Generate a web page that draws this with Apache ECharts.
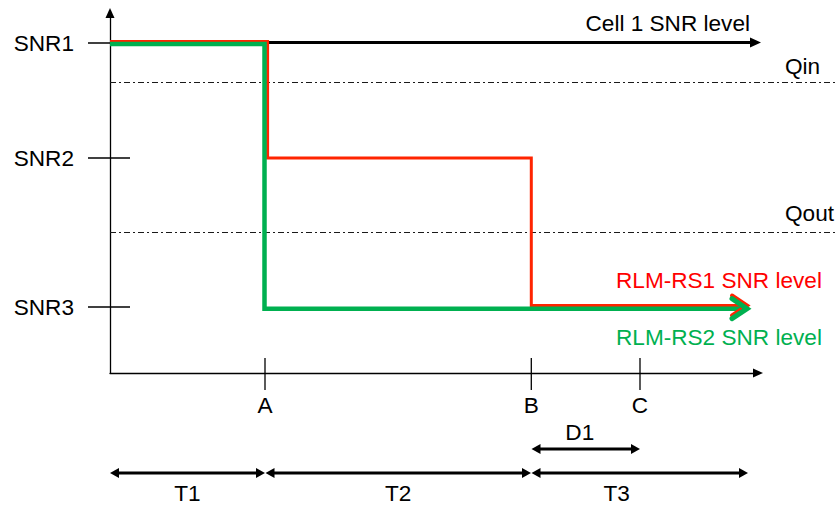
<!DOCTYPE html>
<html><head><meta charset="utf-8">
<script src="https://cdn.jsdelivr.net/npm/echarts@6/dist/echarts.min.js"></script>
<style>html,body{margin:0;padding:0;background:#fff}#c{width:838px;height:507px}</style>
</head><body><div id="c"></div>
<script>
// ---- data ----
const yTickLabels = ['SNR1', 'SNR2', 'SNR3'];
const yTickValues = [330, 215, 66];
const thresholdLabels = ['Qin', 'Qout'];
const thresholdValues = [290.5, 140.5];
const xTickLabels = ['A', 'B', 'C'];
const xTickValues = [155, 421.3, 530];
const seriesNames = ['Cell 1 SNR level', 'RLM-RS1 SNR level', 'RLM-RS2 SNR level'];
const cellLevelX = [0, 641];
const cellLevelY = [330.5, 330.5];
const rs1LevelX = [0, 157.6, 157.6, 421.3, 421.3, 635];
const rs1LevelY = [331.5, 331.5, 215, 215, 67.5, 67.5];
const rs2LevelX = [0, 154.5, 154.5, 635];
const rs2LevelY = [329, 329, 64.3, 64.3];
const arrowTipX = [651, 637, 637];
const periodLabels = ['T1', 'T2', 'T3'];
const periodStart = [0, 155.5, 421.5];
const periodEnd = [155, 421, 638];
const delayLabels = ['D1'];
const delayStart = [421.5];
const delayEnd = [530];

// ---- helpers ----
const FONT = '"Liberation Sans", Arial, Helvetica, sans-serif';
const FS = 22.6;
const RED = '#FF2400', GREEN = '#00B050', TXT_RED = '#FF0000';
function txt(x, y, text, align, color) {
  return {type: 'text', x: x, y: y, style: {text: text, fill: color || '#000', fontSize: FS, fontFamily: FONT,
    align: align, verticalAlign: 'middle', textAlign: align, textVerticalAlign: 'middle'}};
}
function tri(tip, dx, len, half, color) {
  const bx = tip[0] - dx * len;
  return {type: 'polygon', shape: {points: [[tip[0], tip[1]], [bx, tip[1] - half], [bx, tip[1] + half]]}, style: {fill: color}};
}
function pairs(xs, ys) { return xs.map((x, i) => [x, ys[i]]); }

const chart = echarts.init(document.getElementById('c'), null, {renderer: 'svg'});
const option = {
  animation: false,
  backgroundColor: '#fff',
  grid: {left: 110, right: 80, top: 13, bottom: 134},
  xAxis: {type: 'value', min: 0, max: 648, splitLine: {show: false}, axisTick: {show: false}, axisLabel: {show: false},
    axisLine: {show: true, onZero: true, lineStyle: {color: '#000', width: 1.3}, symbol: ['none', 'triangle'], symbolSize: [9, 10]}},
  yAxis: {type: 'value', min: 0, max: 360, splitLine: {show: false}, axisTick: {show: false}, axisLabel: {show: false},
    axisLine: {show: true, lineStyle: {color: '#000', width: 1.3}, symbol: ['none', 'triangle'], symbolSize: [9, 10]}},
  series: [
    // thresholds
    {type: 'custom', clip: false, z: 2, data: thresholdValues.map((v, i) => [0, v, i]),
      renderItem: function (params, api) {
        const i = api.value(2);
        const p = api.coord([0, api.value(1)]);
        const lx = api.coord([675, 0])[0];
        const off = [-16, -19][i];
        return {type: 'group', children: [
          {type: 'line', shape: {x1: p[0], y1: p[1], x2: api.getWidth(), y2: p[1]},
            style: {stroke: '#1a1a1a', lineWidth: 1, lineDash: [6, 3, 2, 3]}},
          txt(lx, p[1] + off, thresholdLabels[i], 'left')
        ]};
      }},
    // y ticks + labels
    {type: 'custom', clip: false, z: 2, data: yTickValues.map((v, i) => [0, v, i]),
      renderItem: function (params, api) {
        const i = api.value(2);
        const p = api.coord([0, api.value(1)]);
        return {type: 'group', children: [
          {type: 'line', shape: {x1: p[0] - 22, y1: p[1], x2: p[0] + 20, y2: p[1]}, style: {stroke: '#000', lineWidth: 1.3}},
          txt(p[0] - 36, p[1], yTickLabels[i], 'right')
        ]};
      }},
    // x ticks + labels
    {type: 'custom', clip: false, z: 2, data: xTickValues.map((v, i) => [v, 0, i]),
      renderItem: function (params, api) {
        const i = api.value(2);
        const p = api.coord([api.value(0), 0]);
        return {type: 'group', children: [
          {type: 'line', shape: {x1: p[0], y1: p[1] - 15, x2: p[0], y2: p[1] + 17}, style: {stroke: '#000', lineWidth: 1.3}},
          txt(p[0], p[1] + 32, xTickLabels[i], 'center')
        ]};
      }},
    // level curves
    {type: 'line', name: seriesNames[0], clip: false, z: 3, symbol: 'none', data: pairs(cellLevelX, cellLevelY),
      lineStyle: {color: '#000', width: 3}},
    {type: 'line', name: seriesNames[1], clip: false, z: 4, symbol: 'none', data: pairs(rs1LevelX, rs1LevelY),
      lineStyle: {color: RED, width: 3, join: 'miter'}},
    {type: 'line', name: seriesNames[2], clip: false, z: 5, symbol: 'none', data: pairs(rs2LevelX, rs2LevelY),
      lineStyle: {color: GREEN, width: 4.5, join: 'miter'}},
    // arrowheads + series labels
    {type: 'custom', clip: false, z: 6,
      data: [[arrowTipX[0], cellLevelY[1], 0], [arrowTipX[1], rs1LevelY[rs1LevelY.length - 1], 1], [arrowTipX[2], rs2LevelY[rs2LevelY.length - 1], 2]],
      renderItem: function (params, api) {
        const i = api.value(2);
        const p = api.coord([api.value(0), api.value(1)]);
        if (i === 0) {
          return {type: 'group', children: [
            tri(p, 1, 11, 5, '#000'),
            txt(p[0] - 11, p[1] - 19, seriesNames[0], 'right')
          ]};
        }
        const color = i === 1 ? RED : GREEN;
        const lw = i === 1 ? 4 : 5;
        const lx = api.coord([506, 0])[0];
        const ly = i === 1 ? api.coord([0, 93])[1] : api.coord([0, 35.5])[1];
        return {type: 'group', children: [
          {type: 'polyline', shape: {points: [[p[0] - 15, p[1] - 10], [p[0], p[1]], [p[0] - 15, p[1] + 10]]},
            style: {stroke: color, lineWidth: lw, fill: null, lineJoin: 'miter', lineCap: 'round'}},
          txt(lx, ly, seriesNames[i], 'left', i === 1 ? TXT_RED : GREEN)
        ]};
      }},
    // period double arrows
    {type: 'custom', clip: false, z: 2, data: periodStart.map((s, i) => [s, periodEnd[i], i]),
      renderItem: function (params, api) {
        const i = api.value(2);
        const a = api.coord([api.value(0), -100]);
        const b = api.coord([api.value(1), -100]);
        const lblY = api.coord([0, -120])[1];
        const off = [0, 0, -23][i];
        return {type: 'group', children: [
          {type: 'line', shape: {x1: a[0] + 6, y1: a[1], x2: b[0] - 6, y2: b[1]}, style: {stroke: '#000', lineWidth: 3}},
          tri(a, -1, 9, 5, '#000'), tri(b, 1, 9, 5, '#000'),
          txt((a[0] + b[0]) / 2 + off, lblY, periodLabels[i], 'center')
        ]};
      }},
    // delay double arrow
    {type: 'custom', clip: false, z: 2, data: delayStart.map((s, i) => [s, delayEnd[i], i]),
      renderItem: function (params, api) {
        const i = api.value(2);
        const a = api.coord([api.value(0), -76]);
        const b = api.coord([api.value(1), -76]);
        const lblY = api.coord([0, -59])[1];
        return {type: 'group', children: [
          {type: 'line', shape: {x1: a[0] + 6, y1: a[1], x2: b[0] - 6, y2: b[1]}, style: {stroke: '#000', lineWidth: 3}},
          tri(a, -1, 9, 5, '#000'), tri(b, 1, 9, 5, '#000'),
          txt((a[0] + b[0]) / 2 - 6, lblY, delayLabels[i], 'center')
        ]};
      }}
  ]
};
chart.setOption(option);
</script>
</body></html>
